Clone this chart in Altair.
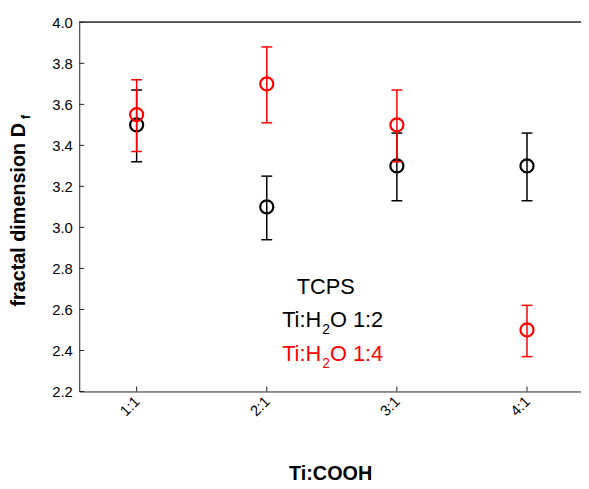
import json
import altair as alt
import pandas as pd

# ---- data ----
categories = ["1:1", "2:1", "3:1", "4:1"]
x_index = [1, 2, 3, 4]

series_names = ["Ti:H2O 1:2", "Ti:H2O 1:4"]
series_colors = ["#000000", "#ff0000"]

black_mean = [3.50, 3.10, 3.30, 3.30]
black_upper = [3.67, 3.25, 3.46, 3.46]
black_lower = [3.32, 2.94, 3.13, 3.13]

red_mean = [3.55, 3.70, 3.50, 2.50]
red_upper = [3.72, 3.88, 3.67, 2.62]
red_lower = [3.37, 3.51, 3.32, 2.37]

y_ticks = [2.2, 2.4, 2.6, 2.8, 3.0, 3.2, 3.4, 3.6, 3.8, 4.0]

# ---- tables ----
rows = []
for name, m, lo, hi in [
    (series_names[0], black_mean, black_lower, black_upper),
    (series_names[1], red_mean, red_lower, red_upper),
]:
    for xi, mi, li, hi_ in zip(x_index, m, lo, hi):
        rows.append({"series": name, "x": xi, "y": mi, "lo": li, "hi": hi_})
df = pd.DataFrame(rows)
ytick_df = pd.DataFrame({"y": y_ticks})
xtick_df = pd.DataFrame({"x": x_index})

W, H = 507, 373
FONT = "Liberation Sans"
AXIS_COLOR = "#222222"

x_scale = alt.Scale(domain=[0.559, 4.415], nice=False, zero=False)
y_scale = alt.Scale(domain=[2.2, 4.0], nice=False, zero=False)

label_expr = json.dumps(categories) + "[datum.value - 1]"

x_axis = alt.Axis(
    values=x_index, labelExpr=label_expr, labelAngle=-45, labelAlign="right",
    labelBaseline="middle", labelFont=FONT,
    labelFontSize=15, labelColor="black", labelPadding=7, ticks=False,
    grid=False, domainColor=AXIS_COLOR, domainWidth=1,
    title="Ti:COOH", titleFont=FONT, titleFontSize=20, titleFontWeight="bold",
    titleColor="black", titleY=89, titleBaseline="alphabetic",
)
y_axis = alt.Axis(
    values=y_ticks, format=".1f", labelFont=FONT, labelFontSize=15,
    labelColor="black", labelPadding=7, ticks=False, grid=False,
    domainColor=AXIS_COLOR, domainWidth=1,
    title="fractal dimension D", titleFont=FONT, titleFontSize=20,
    titleFontWeight="bold", titleColor="black", titleX=-55, titleY=194,
    titleBaseline="alphabetic", titleAlign="center", titleAngle=270,
)


def X(field="x"):
    return alt.X(field, type="quantitative", scale=x_scale, axis=x_axis, title="Ti:COOH")


def Y(field):
    return alt.Y(field, type="quantitative", scale=y_scale, axis=y_axis,
                 title="fractal dimension D")


color = alt.Color("series:N", scale=alt.Scale(domain=series_names, range=series_colors),
                  legend=None)

base = alt.Chart(df)
layers = []
for name in series_names:
    b = base.transform_filter(alt.datum.series == name)
    layers.append(b.mark_rule(strokeWidth=1.5, opacity=1).encode(
        x=X(), y=Y("lo"), y2="hi", color=color))
    layers.append(b.mark_tick(orient="horizontal", size=11, thickness=1.5, opacity=1).encode(
        x=X(), y=Y("lo"), color=color))
    layers.append(b.mark_tick(orient="horizontal", size=11, thickness=1.5, opacity=1).encode(
        x=X(), y=Y("hi"), color=color))
    layers.append(b.mark_point(shape="circle", filled=False, size=175, strokeWidth=2.2,
                               opacity=1).encode(x=X(), y=Y("y"), color=color))

# inward ticks and top frame line
ytick_layer = alt.Chart(ytick_df).mark_rule(color=AXIS_COLOR, strokeWidth=1).encode(
    y=Y("y"), x=alt.value(0), x2=alt.value(5))
xtick_layer = alt.Chart(xtick_df).mark_rule(color=AXIS_COLOR, strokeWidth=1).encode(
    x=X("x"), y=alt.value(H), y2=alt.value(H - 5))
top_line = alt.Chart(ytick_df).mark_rule(color="#555555", strokeWidth=1).encode(
    x=alt.value(0), x2=alt.value(W), y=alt.value(0))

# annotation text
def txt(text, x, y, size, color_):
    return alt.Chart(pd.DataFrame({"t": [text]})).mark_text(
        font=FONT, fontSize=size, color=color_, align="left", baseline="alphabetic"
    ).encode(text="t:N", x=alt.value(x), y=alt.value(y))

ann = [
    alt.Chart(pd.DataFrame({"t": ["TCPS"]})).mark_text(
        font=FONT, fontSize=22, color="black", align="center", baseline="alphabetic"
    ).encode(text="t:N", x=alt.value(249), y=alt.value(275)),
    txt("Ti:H", 205, 308, 22, "black"),
    txt("2", 245.5, 315, 14, "black"),
    txt("O 1:2", 253.3, 308, 22, "black"),
    txt("Ti:H", 205, 342, 22, "red"),
    txt("2", 245.5, 349, 14, "red"),
    txt("O 1:4", 253.3, 342, 22, "red"),
]

sub_f = alt.Chart(pd.DataFrame({"t": ["f"]})).mark_text(
    font=FONT, fontSize=13, fontWeight="bold", color="black", angle=270,
    align="left", baseline="alphabetic"
).encode(text="t:N", x=alt.value(-50), y=alt.value(98))

chart = alt.layer(
    top_line, ytick_layer, xtick_layer, *layers, *ann, sub_f
).properties(
    width=W, height=H,
    autosize=alt.AutoSizeParams(type="none"),
    padding={"left": 72, "top": 12, "right": 0, "bottom": 90},
).configure_view(stroke=None)

chart.save("out.html", embed_options={"renderer": "svg", "actions": False})
